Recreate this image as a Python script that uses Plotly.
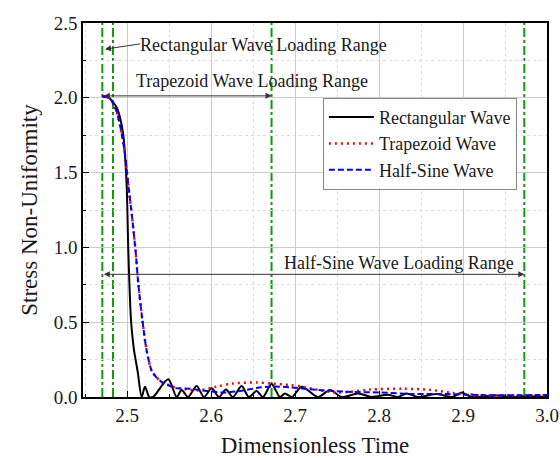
import plotly.graph_objects as go

# Dimensionless time samples and stress non-uniformity for each loading pulse
rect_t = [2.4705, 2.4773, 2.482, 2.4876, 2.4915, 2.4955, 2.4995, 2.5014, 2.5046, 2.5074,
          2.5086, 2.5126, 2.5174, 2.5213, 2.5264, 2.5308, 2.5490, 2.5590, 2.5650, 2.5725,
          2.5829, 2.5915, 2.6007, 2.6094, 2.6177, 2.626, 2.6364, 2.645, 2.6543, 2.6618,
          2.672, 2.682, 2.688, 2.6963, 2.7079, 2.7273, 2.7416, 2.7558, 2.7749, 2.7915,
          2.8106, 2.8225, 2.8329, 2.8463, 2.8686, 2.8868, 2.8987, 2.9023, 2.9106, 2.94,
          2.956, 2.98, 3.0]
rect_s = [2.01, 2.005, 1.98, 1.935, 1.87, 1.75, 1.41, 0.99, 0.52, 0.35,
          0.30, 0.17, 0.0, 0.069, 0.0, 0.0, 0.118, 0.0, 0.047, 0.0,
          0.073, 0.0, 0.058, 0.0, 0.05, 0.0, 0.073, 0.0, 0.04, 0.0,
          0.087, 0.0, 0.024, 0.0, 0.069, 0.0, 0.047, 0.0, 0.024, 0.0,
          0.015, 0.0, 0.024, 0.0, 0.02, 0.0, 0.03, 0.02, 0.0, 0.01,
          0.0, 0.005, 0.0]

trap_t = [2.4705, 2.4796, 2.4836, 2.488, 2.4936, 2.4975, 2.5014, 2.5062, 2.5102, 2.5133,
          2.5181, 2.5233, 2.5293, 2.5352, 2.5412, 2.5471, 2.557, 2.5749, 2.5868, 2.6067,
          2.626, 2.6543, 2.672, 2.6939, 2.7098, 2.7296, 2.7495, 2.7654, 2.7892, 2.8285,
          2.8606, 2.888, 2.9046, 2.9201, 2.956, 3.0]
trap_s = [2.01, 1.995, 1.96, 1.90, 1.76, 1.62, 1.42, 1.19, 0.97, 0.76,
          0.52, 0.31, 0.175, 0.13, 0.10, 0.085, 0.065, 0.047, 0.045, 0.07,
          0.09, 0.097, 0.09, 0.08, 0.068, 0.045, 0.03, 0.035, 0.05, 0.055,
          0.048, 0.027, 0.018, 0.012, 0.01, 0.012]

sine_t = [2.4705, 2.4796, 2.4836, 2.488, 2.4936, 2.4975, 2.5014, 2.5062, 2.5102, 2.5133,
          2.5181, 2.5233, 2.5293, 2.5352, 2.5412, 2.5471, 2.557, 2.5749, 2.5948, 2.6142,
          2.6344, 2.6543, 2.672, 2.6939, 2.7213, 2.7618, 2.801, 2.8404, 2.8808, 2.9201, 3.0]
sine_s = [2.01, 1.995, 1.96, 1.90, 1.76, 1.62, 1.42, 1.19, 0.97, 0.76,
          0.52, 0.31, 0.175, 0.13, 0.10, 0.085, 0.06, 0.055, 0.04, 0.03,
          0.04, 0.06, 0.07, 0.065, 0.05, 0.035, 0.03, 0.02, 0.02, 0.013, 0.013]

# Loading start and end times of the three pulses
load_start = 2.4705
load_ends = [2.4832, 2.672, 2.973]
marker_lines = [load_start] + load_ends

x_ticks = [2.5, 2.6, 2.7, 2.8, 2.9, 3.0]
y_ticks = [0.0, 0.5, 1.0, 1.5, 2.0, 2.5]

FONT = "Times New Roman, Liberation Serif, DejaVu Serif, serif"
INK = "#1a1a1a"

fig = go.Figure()
fig.add_trace(go.Scatter(x=rect_t, y=rect_s, mode="lines", name="Rectangular Wave",
                         line=dict(color="black", width=2, shape="spline", smoothing=0.8)))
fig.add_trace(go.Scatter(x=trap_t, y=trap_s, mode="lines", name="Trapezoid Wave",
                         line=dict(color="red", width=2.5, dash="2px,4px", shape="spline",
                                   smoothing=0.8)))
fig.add_trace(go.Scatter(x=sine_t, y=sine_s, mode="lines", name="Half-Sine Wave",
                         line=dict(color="blue", width=2, dash="6px,3px", shape="spline",
                                   smoothing=0.8)))

for xv in marker_lines:
    fig.add_shape(type="line", xref="x", yref="paper", x0=xv, x1=xv, y0=0, y1=1,
                  line=dict(color="#119911", width=2, dash="dashdot"), layer="below")

arrow_style = dict(showarrow=True, arrowhead=2, arrowsize=1.2, arrowwidth=1,
                   arrowcolor="#333333", axref="x", ayref="y", text="")

# Rectangular pulse: pointer from the label to its short range
fig.add_annotation(x=2.4737, y=2.325, ax=2.5174, ay=2.362, **arrow_style)
fig.add_annotation(x=2.663, y=2.353, text="Rectangular Wave Loading Range", showarrow=False,
                   font=dict(family=FONT, size=18, color=INK))

# Trapezoid pulse range
fig.add_annotation(x=load_ends[1], y=2.013, ax=load_start, ay=2.013,
                   arrowside="end+start", **arrow_style)
fig.add_annotation(x=2.6487, y=2.113, text="Trapezoid Wave Loading Range", showarrow=False,
                   font=dict(family=FONT, size=18, color=INK))

# Half-sine pulse range
fig.add_annotation(x=load_ends[2], y=0.82, ax=load_start, ay=0.82,
                   arrowside="end+start", **arrow_style)
fig.add_annotation(x=2.8237, y=0.895, text="Half-Sine Wave Loading Range", showarrow=False,
                   font=dict(family=FONT, size=18, color=INK))

axis_common = dict(showline=True, linecolor="black", linewidth=1.5, mirror=True,
                   ticks="inside", ticklen=6, tickcolor="black", automargin=False,
                   showgrid=True, gridcolor="#cccccc", gridwidth=1, zeroline=False,
                   tickfont=dict(family=FONT, size=19, color=INK))

fig.update_xaxes(range=[2.4475, 3.0], tickvals=x_ticks, ticktext=[f"{v:.1f}" for v in x_ticks],
                 title=dict(text="Dimensionless Time", font=dict(family=FONT, size=23, color=INK),
                            standoff=12),
                 minor=dict(dtick=0.05, tick0=2.45, showgrid=True, gridcolor="#dddddd",
                            griddash="dot", ticks="inside", ticklen=3, tickcolor="black"),
                 **axis_common)
fig.update_yaxes(range=[0, 2.5], tickvals=y_ticks, ticktext=[f"{v:.1f}" for v in y_ticks],
                 title=dict(text="Stress Non-Uniformity", font=dict(family=FONT, size=23, color=INK),
                            standoff=10),
                 minor=dict(dtick=0.25, tick0=0, showgrid=True, gridcolor="#dddddd",
                            griddash="dot", ticks="inside", ticklen=3, tickcolor="black"),
                 **axis_common)

fig.update_layout(
    width=560, height=458,
    margin=dict(l=83, r=13, t=23, b=61),
    paper_bgcolor="white", plot_bgcolor="white",
    showlegend=True,
    legend=dict(x=0.517, y=0.80, xanchor="left", yanchor="top",
                bgcolor="white", bordercolor="#888888", borderwidth=1,
                font=dict(family=FONT, size=18, color=INK),
                tracegroupgap=0, itemwidth=45),
)

fig.write_html("out.html")
